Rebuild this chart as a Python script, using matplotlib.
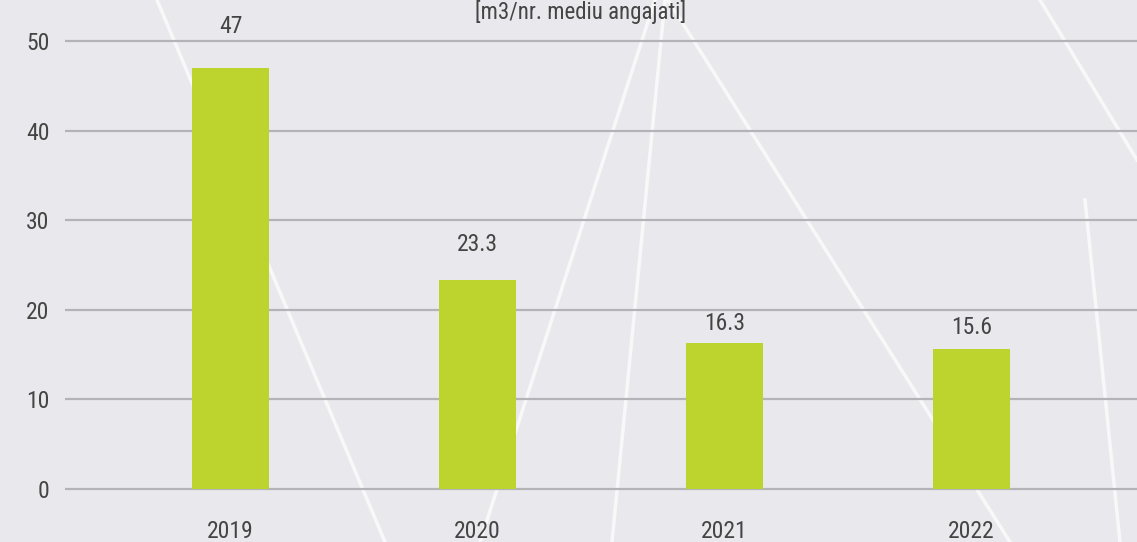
import matplotlib
matplotlib.use("Agg")
import matplotlib.pyplot as plt
from matplotlib.lines import Line2D
from matplotlib import font_manager as fm

years = ["2019", "2020", "2021", "2022"]
values = [47, 23.3, 16.3, 15.6]
value_labels = ["47", "23.3", "16.3", "15.6"]
yticks = [0, 10, 20, 30, 40, 50]
title = "[m3/nr. mediu angajati]"

# pick a narrow family if one is installed
names = {f.name for f in fm.fontManager.ttflist}
narrow = [n for n in ["Liberation Sans Narrow", "DejaVu Sans Condensed", "Roboto Condensed",
                      "Open Sans Condensed"] if n in names]
FONT = narrow + ["DejaVu Sans"]
plt.rcParams["font.family"] = FONT
plt.rcParams["font.stretch"] = "condensed"
TXT = "#444444"
BG = "#e9e9ed"
BAR = "#bdd42f"
GRID = "#b4b4b8"
FS = 17

W, H = 1137, 542
PX = 8.96  # pixels per unit
fig = plt.figure(figsize=(W / 100, H / 100), dpi=100, facecolor=BG)

deco = [((157, 0), (385, 542)), ((655, 0), (480, 542)), ((665, 0), (612, 542)),
        ((668, 0), (1010, 542)), ((1040, 0), (1137, 160)), ((1085, 200), (1120, 542))]
for (x0, y0), (x1, y1) in deco:
    fig.add_artist(Line2D([x0 / W, x1 / W], [1 - y0 / H, 1 - y1 / H],
                          transform=fig.transFigure, color="white", lw=2.5, alpha=0.7, zorder=0))

bottom_px = 489 + PX  # axes bottom one unit below zero
ax = fig.add_axes([65 / W, (H - bottom_px) / H, 1 - 65 / W, bottom_px / H])
ax.set_facecolor("none")
x = list(range(len(years)))
ax.bar(x, values, width=0.31, color=BAR, zorder=3)

ax.set_xlim(-0.67, 3.67)
ax.set_ylim(-1, 489 / PX)
ax.set_yticks(yticks)
ax.set_xticks(x)
ax.set_xticklabels(years)
ax.yaxis.grid(True, color=GRID, lw=1.6, zorder=1)
ax.set_axisbelow(True)
for s in ax.spines.values():
    s.set_visible(False)
ax.tick_params(axis="both", length=0, labelsize=FS, labelcolor=TXT)
ax.tick_params(axis="x", pad=16)
ax.tick_params(axis="y", pad=11)

offsets = [30, 26, 14, 16]
for xi, v, lab, off in zip(x, values, value_labels, offsets):
    ax.annotate(lab, (xi, v), xytext=(0, off), textcoords="offset points",
                ha="center", va="center", fontsize=FS, color=TXT)

fig.text(581 / W, 1 - 12 / H, title, ha="center", va="center", fontsize=16.5, color=TXT)

fig.savefig("out.png", dpi=100, facecolor=BG)
